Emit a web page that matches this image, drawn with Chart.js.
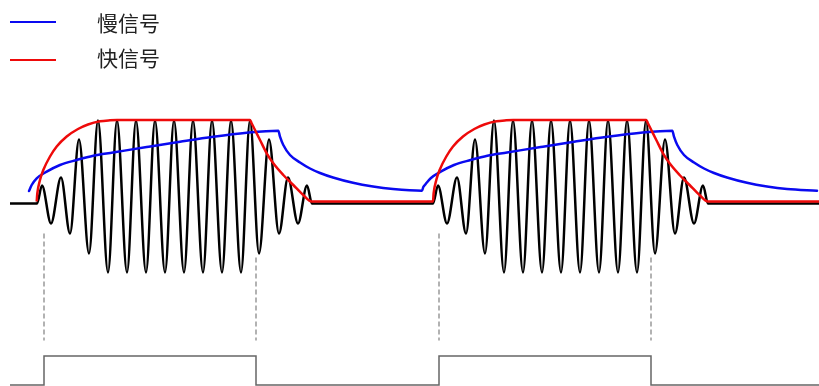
<!DOCTYPE html>
<html>
<head>
<meta charset="utf-8">
<script src="https://cdn.jsdelivr.net/npm/chart.js@4/dist/chart.umd.min.js"></script>
<style>
  html, body { margin: 0; padding: 0; background: #fff; }
  #wrap { position: relative; width: 819px; height: 386px; }
  #c { position: absolute; left: 0; top: 0; }
  .lg { position: absolute; left: 0; height: 21px; }
  .lg i { position: absolute; left: 10px; width: 46px; height: 2px; }
  .lg span { position: absolute; left: 97px; font: 21px/21px "Noto Sans CJK SC", sans-serif; color: #222; white-space: nowrap; }
</style>
</head>
<body>
<div id="wrap">
  <canvas id="c" width="819" height="386"></canvas>
  <div id="legend"></div>
</div>
<script>
/* ===== 数据：时间 t（横轴），幅度 v（基线为 0） ===== */
const seriesNames = ["慢信号", "快信号"];
const seriesColors = ["#0a0af0", "#ee0a0a"];

// 载波（黑）：起点、各峰谷、终点
const carrier = [
  [1.0, 0], [3.7, 0],
  [4.2, 1.8], [5.1, -2.0], [6.1, 2.6], [7.0, -3.0], [7.9, 6.4], [8.9, -5.0],
  [9.8, 8.3], [10.8, -6.9], [11.7, 8.3], [12.7, -6.9], [13.6, 8.3], [14.6, -6.9],
  [15.5, 8.3], [16.5, -6.9], [17.4, 8.3], [18.4, -6.9], [19.3, 8.3], [20.3, -6.9],
  [21.2, 8.3], [22.2, -6.9], [23.1, 8.3], [24.1, -6.9], [25.0, 8.3],
  [25.9, -5.0], [26.9, 6.4], [27.9, -3.0], [28.8, 2.6], [29.8, -2.0], [30.7, 1.8], [31.2, 0],
  [43.3, 0],
  [43.8, 1.8], [44.7, -2.0], [45.7, 2.6], [46.6, -3.0], [47.5, 6.4], [48.5, -5.0],
  [49.4, 8.3], [50.4, -6.9], [51.3, 8.3], [52.3, -6.9], [53.2, 8.3], [54.2, -6.9],
  [55.1, 8.3], [56.1, -6.9], [57.0, 8.3], [58.0, -6.9], [58.9, 8.3], [59.9, -6.9],
  [60.8, 8.3], [61.8, -6.9], [62.7, 8.3], [63.7, -6.9], [64.6, 8.3],
  [65.5, -5.0], [66.5, 6.4], [67.5, -3.0], [68.4, 2.6], [69.4, -2.0], [70.3, 1.8], [70.8, 0],
  [81.9, 0]
];

// 快信号包络（红）
const fastEnv = [
  [3.67, 0.2], [3.73, 1.0], [4.0, 2.35], [4.33, 3.35], [5.0, 4.7], [5.67, 5.7], [6.67, 6.7],
  [7.8, 7.45], [8.8, 7.9], [10.0, 8.22], [11.0, 8.32], [11.7, 8.35],
  [25.0, 8.35], [25.15, 8.05], [25.5, 7.35], [26.0, 6.35], [26.67, 5.02], [27.33, 4.02],
  [28.33, 2.85], [29.33, 1.85], [30.33, 0.85], [31.17, 0.2],
  [43.3, 0.2], [43.36, 1.0], [43.63, 2.35], [43.96, 3.35], [44.63, 4.7], [45.3, 5.7], [46.3, 6.7],
  [47.43, 7.45], [48.43, 7.9], [49.63, 8.22], [50.63, 8.32], [51.33, 8.35],
  [64.63, 8.35], [64.78, 8.05], [65.13, 7.35], [65.63, 6.35], [66.3, 5.02], [66.96, 4.02],
  [67.96, 2.85], [68.96, 1.85], [69.96, 0.85], [70.8, 0.2],
  [81.9, 0.2]
];

// 慢信号包络（蓝）
const slowEnv = [
  [2.9, 1.25], [3.17, 1.85], [3.67, 2.52], [4.67, 3.18], [6.0, 3.85], [7.67, 4.35], [9.33, 4.78],
  [11.3, 5.1], [14.67, 5.65], [18.0, 6.18], [21.33, 6.68], [24.67, 7.08], [27.83, 7.28],
  [28.0, 6.68], [28.33, 5.85], [29.0, 4.85], [30.0, 4.1], [31.0, 3.5], [32.0, 3.05],
  [33.3, 2.6], [35.3, 2.07], [37.3, 1.7], [39.3, 1.45], [42.2, 1.28],
  [42.33, 1.65], [42.57, 1.95], [43.07, 2.52], [44.07, 3.18], [45.4, 3.85], [47.07, 4.35], [48.73, 4.78],
  [50.7, 5.1], [54.07, 5.65], [57.4, 6.18], [60.73, 6.68], [64.07, 7.08], [67.23, 7.28],
  [67.4, 6.68], [67.73, 5.85], [68.4, 4.85], [69.4, 4.1], [70.4, 3.5], [71.4, 3.05],
  [72.7, 2.6], [74.7, 2.07], [76.7, 1.7], [78.7, 1.45], [81.7, 1.28]
];

// 门控信号：边沿时刻与电平
const gateT = [1.0, 4.4, 25.6, 43.9, 65.1, 81.9];
const gateLevel = [0, 1, 0, 1, 0, 0];

// 虚线标记：时刻、上端幅度，下端统一
const markT = [4.4, 25.6, 43.9, 65.1];
const markTop = [-3.0, -5.4, -3.0, -5.4];
const markBottom = -13.7;

/* ===== 组装 ===== */
const pts = a => a.map(([x, y]) => ({ x, y }));
const markPts = [];
markT.forEach((t, i) => { markPts.push({ x: t, y: markTop[i] }, { x: t, y: markBottom }, { x: t, y: null }); });

new Chart(document.getElementById("c"), {
  type: "line",
  data: {
    datasets: [
      { label: seriesNames[1], data: pts(fastEnv), borderColor: seriesColors[1], borderWidth: 2.5, cubicInterpolationMode: "monotone" },
      { label: seriesNames[0], data: pts(slowEnv), borderColor: seriesColors[0], borderWidth: 2.5, cubicInterpolationMode: "monotone", borderCapStyle: "round" },
      { label: "载波", data: pts(carrier), borderColor: "#000", borderWidth: 2.5, cubicInterpolationMode: "monotone" },
      { label: "标记", data: markPts, borderColor: "#999", borderWidth: 1.5, borderDash: [5, 3], spanGaps: false },
      { label: "门控", data: gateT.map((t, i) => ({ x: t, y: gateLevel[i] })), yAxisID: "yGate", stepped: true, borderColor: "#666", borderWidth: 1.5 }
    ]
  },
  options: {
    responsive: false, animation: false,
    layout: { padding: 0 },
    elements: { point: { radius: 0, hoverRadius: 0 } },
    plugins: { legend: { display: false }, tooltip: { enabled: false } },
    events: [],
    scales: {
      x: { type: "linear", min: 0, max: 81.9, display: false },
      y: { min: -18.25, max: 20.35, display: false },
      yGate: { min: -0.035, max: 13.28, display: false }
    }
  }
});

// 图例
document.getElementById("legend").innerHTML = seriesNames.map((n, i) =>
  `<div class="lg" style="top:${i ? 47 : 11.5}px"><i style="top:${i ? 11.5 : 9}px;background:${seriesColors[i]}"></i><span>${n}</span></div>`).join("");
</script>
</body>
</html>
